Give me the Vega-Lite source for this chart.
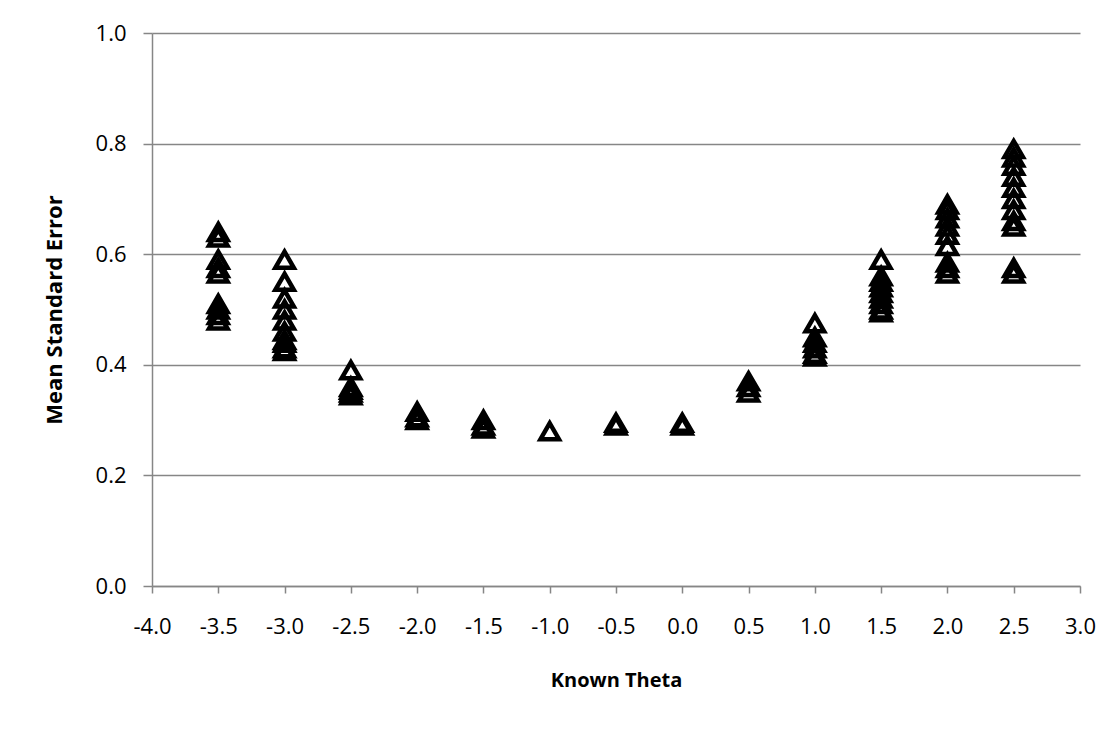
{
  "$schema": "https://vega.github.io/schema/vega-lite/v6.json",
  "autosize": "none",
  "width": 928,
  "height": 553,
  "padding": {"left": 152, "top": 33, "right": 40, "bottom": 143},
  "background": "white",
  "config": {
    "view": {"stroke": null},
    "font": "Open Sans"
  },
  "data": {
    "values": [
      {"theta": -3.5, "se": 0.64}, {"theta": -3.5, "se": 0.63}, {"theta": -3.5, "se": 0.59},
      {"theta": -3.5, "se": 0.575}, {"theta": -3.5, "se": 0.565}, {"theta": -3.5, "se": 0.51},
      {"theta": -3.5, "se": 0.5}, {"theta": -3.5, "se": 0.49}, {"theta": -3.5, "se": 0.48},
      {"theta": -3.0, "se": 0.59}, {"theta": -3.0, "se": 0.55}, {"theta": -3.0, "se": 0.52},
      {"theta": -3.0, "se": 0.5}, {"theta": -3.0, "se": 0.48}, {"theta": -3.0, "se": 0.46},
      {"theta": -3.0, "se": 0.445}, {"theta": -3.0, "se": 0.44}, {"theta": -3.0, "se": 0.43},
      {"theta": -3.0, "se": 0.425},
      {"theta": -2.5, "se": 0.39}, {"theta": -2.5, "se": 0.36}, {"theta": -2.5, "se": 0.355},
      {"theta": -2.5, "se": 0.35}, {"theta": -2.5, "se": 0.345},
      {"theta": -2.0, "se": 0.315}, {"theta": -2.0, "se": 0.305}, {"theta": -2.0, "se": 0.3},
      {"theta": -1.5, "se": 0.3}, {"theta": -1.5, "se": 0.29}, {"theta": -1.5, "se": 0.285},
      {"theta": -1.0, "se": 0.28},
      {"theta": -0.5, "se": 0.295}, {"theta": -0.5, "se": 0.29},
      {"theta": 0.0, "se": 0.295}, {"theta": 0.0, "se": 0.29},
      {"theta": 0.5, "se": 0.37}, {"theta": 0.5, "se": 0.36}, {"theta": 0.5, "se": 0.35},
      {"theta": 1.0, "se": 0.475}, {"theta": 1.0, "se": 0.45}, {"theta": 1.0, "se": 0.44},
      {"theta": 1.0, "se": 0.43}, {"theta": 1.0, "se": 0.42}, {"theta": 1.0, "se": 0.415},
      {"theta": 1.5, "se": 0.59}, {"theta": 1.5, "se": 0.56}, {"theta": 1.5, "se": 0.55},
      {"theta": 1.5, "se": 0.54}, {"theta": 1.5, "se": 0.53}, {"theta": 1.5, "se": 0.52},
      {"theta": 1.5, "se": 0.51}, {"theta": 1.5, "se": 0.5}, {"theta": 1.5, "se": 0.495},
      {"theta": 2.0, "se": 0.69}, {"theta": 2.0, "se": 0.68}, {"theta": 2.0, "se": 0.665},
      {"theta": 2.0, "se": 0.65}, {"theta": 2.0, "se": 0.635}, {"theta": 2.0, "se": 0.615},
      {"theta": 2.0, "se": 0.585}, {"theta": 2.0, "se": 0.575}, {"theta": 2.0, "se": 0.565},
      {"theta": 2.5, "se": 0.79}, {"theta": 2.5, "se": 0.775}, {"theta": 2.5, "se": 0.76},
      {"theta": 2.5, "se": 0.74}, {"theta": 2.5, "se": 0.72}, {"theta": 2.5, "se": 0.7},
      {"theta": 2.5, "se": 0.68}, {"theta": 2.5, "se": 0.66}, {"theta": 2.5, "se": 0.65},
      {"theta": 2.5, "se": 0.575}, {"theta": 2.5, "se": 0.565}
    ]
  },
  "mark": {
    "type": "point",
    "shape": "triangle-up",
    "filled": false,
    "stroke": "black",
    "strokeWidth": 4.5,
    "size": 340,
    "opacity": 1
  },
  "encoding": {
    "x": {
      "field": "theta",
      "type": "quantitative",
      "title": "Known Theta",
      "scale": {"domain": [-4, 3], "nice": false, "zero": false},
      "axis": {
        "values": [-4, -3.5, -3, -2.5, -2, -1.5, -1, -0.5, 0, 0.5, 1, 1.5, 2, 2.5, 3],
        "labelExpr": "datum.value < 0 ? '-' + format(-datum.value, '.1f') : format(datum.value, '.1f')",
        "labelFlush": false,
        "labelOverlap": false,
        "grid": false,
        "domainColor": "#868686",
        "domainWidth": 1.5,
        "tickColor": "#868686",
        "tickWidth": 1.5,
        "tickSize": 7,
        "labelPadding": 23,
        "labelFontSize": 22,
        "labelColor": "black",
        "labelFont": "Open Sans",
        "titleFont": "Open Sans",
        "titleFontSize": 20,
        "titleFontWeight": "bold",
        "titleColor": "black",
        "titlePadding": 33
      }
    },
    "y": {
      "field": "se",
      "type": "quantitative",
      "title": "Mean Standard Error",
      "scale": {"domain": [0, 1], "nice": false},
      "axis": {
        "values": [0, 0.2, 0.4, 0.6, 0.8, 1.0],
        "format": ".1f",
        "grid": true,
        "gridColor": "#868686",
        "gridWidth": 1.5,
        "domainColor": "#868686",
        "domainWidth": 1.5,
        "tickColor": "#868686",
        "tickWidth": 1.5,
        "tickSize": 9,
        "labelPadding": 17,
        "labelFontSize": 22,
        "labelColor": "black",
        "labelFont": "Open Sans",
        "titleFont": "Open Sans",
        "titleFontSize": 22,
        "titleFontWeight": "bold",
        "titleColor": "black",
        "titlePadding": 29
      }
    }
  }
}
